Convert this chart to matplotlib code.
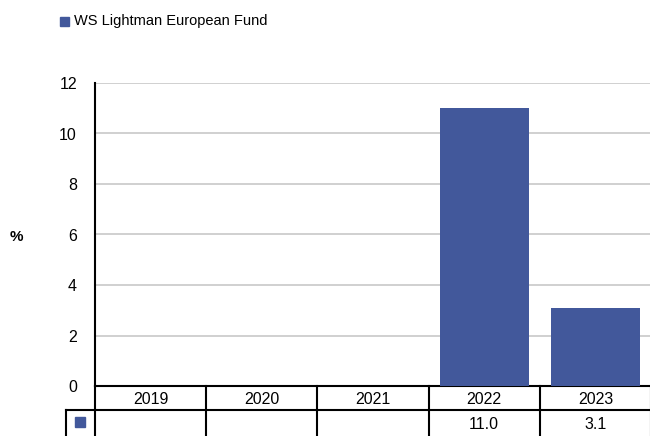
import matplotlib.pyplot as plt
import matplotlib.transforms as mtransforms

years = ['2019', '2020', '2021', '2022', '2023']
values = [None, None, None, 11.0, 3.1]
series = 'WS Lightman European Fund'
color = '#42589b'

plt.rcParams['font.family'] = ['Liberation Sans', 'DejaVu Sans']

fig = plt.figure(figsize=(6.5, 4.36), dpi=100)
ax = fig.add_axes([95 / 650, 50 / 436, 556 / 650, 303 / 436])

xs = [i for i, v in enumerate(values) if v is not None]
hs = [v for v in values if v is not None]
ax.bar(xs, hs, width=0.8, color=color, zorder=3)

ax.set_xlim(-0.5, len(years) - 0.5)
ax.set_ylim(0, 12)
ax.set_yticks(range(0, 13, 2))
ax.tick_params(axis='y', length=0, pad=13, labelsize=11.5)
ax.set_xticks([])
ax.grid(axis='y', color='#c8c8c8', linewidth=1.2, zorder=0)
for s in ['top', 'right']:
    ax.spines[s].set_visible(False)
ax.spines['left'].set_linewidth(1.5)
ax.spines['bottom'].set_linewidth(1.5)

fig.text(16 / 650, 1 - 237 / 436, '%', fontsize=11, fontweight='bold',
         ha='center', va='center')

# table under the axes
tr = mtransforms.blended_transform_factory(ax.transData, ax.transAxes)
row = 24 / 303
kw = dict(transform=tr, clip_on=False, color='black', linewidth=1.5)
for i in range(len(years) + 1):
    ax.plot([i - 0.5, i - 0.5], [0, -2.2 * row], **kw)
ax.plot([-0.5, len(years) - 0.5], [-row, -row], **kw)
cell = 29 / 111
ax.plot([-0.5 - cell, -0.5], [-row, -row], **kw)
ax.plot([-0.5 - cell, -0.5 - cell], [-row, -2.2 * row], **kw)
ax.plot([-0.5 - cell / 2], [-1.5 * row], marker='s', markersize=7, color=color,
        transform=tr, clip_on=False, linestyle='none')
for i, y in enumerate(years):
    ax.text(i, -0.55 * row, y, transform=tr, ha='center', va='center', fontsize=11.5)
    if values[i] is not None:
        ax.text(i, -1.6 * row, f'{values[i]:.1f}', transform=tr, ha='center',
                va='center', fontsize=11.5)

# legend
fig.patches.append(plt.Rectangle((60 / 650, 1 - 26 / 436), 9 / 650, 9 / 436,
                                 transform=fig.transFigure, color=color))
fig.text(74 / 650, 1 - 21 / 436, series, fontsize=10.5, va='center')

fig.savefig('out.png', dpi=100)
